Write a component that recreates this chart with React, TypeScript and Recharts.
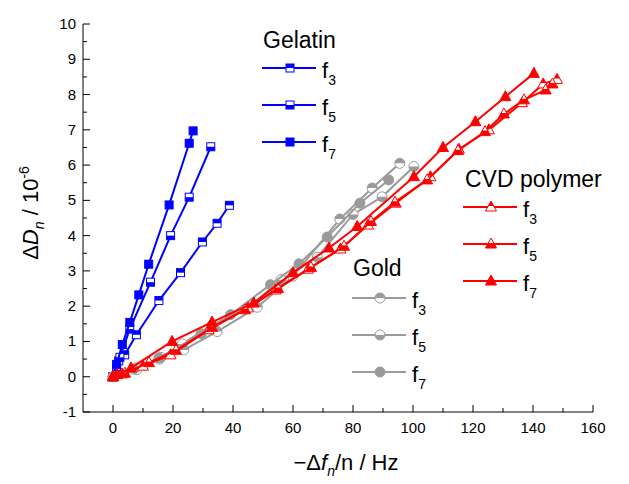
import React from "react";
import { ScatterChart, Scatter, XAxis, YAxis } from "recharts";

const BLUE = "#0000ff";
const GRAY = "#9a9a9a";
const RED = "#ff0000";
const FONT = "'Liberation Sans', Arial, sans-serif";

const xTicks = [0, 10, 20, 30, 40, 50, 60, 70, 80, 90, 100, 110, 120, 130, 140, 150, 160];
const yTicks = [-1, -0.5, 0, 0.5, 1, 1.5, 2, 2.5, 3, 3.5, 4, 4.5, 5, 5.5, 6, 6.5, 7, 7.5, 8, 8.5, 9, 9.5, 10];

// gelatin
const gelatinF3 = [
  { x: 0, y: 0 }, { x: 1.9, y: 0.45 }, { x: 3.9, y: 0.62 }, { x: 7.8, y: 1.19 }, { x: 15.3, y: 2.16 },
  { x: 22.5, y: 2.95 }, { x: 29.8, y: 3.82 }, { x: 34.7, y: 4.35 }, { x: 38.8, y: 4.86 },
];
const gelatinF5 = [
  { x: 0, y: 0 }, { x: 1.2, y: 0.2 }, { x: 2.3, y: 0.55 }, { x: 5.6, y: 1.35 }, { x: 12.5, y: 2.68 },
  { x: 19.2, y: 4.0 }, { x: 25.4, y: 5.09 }, { x: 32.6, y: 6.52 },
];
const gelatinF7 = [
  { x: 0, y: 0 }, { x: 1.2, y: 0.35 }, { x: 3.1, y: 0.91 }, { x: 5.6, y: 1.54 }, { x: 8.6, y: 2.32 },
  { x: 11.9, y: 3.19 }, { x: 18.7, y: 4.87 }, { x: 25.4, y: 6.62 }, { x: 26.7, y: 6.97 },
];

// gold
const goldF3 = [
  { x: 0, y: 0 }, { x: 8, y: 0.2 }, { x: 15.5, y: 0.5 }, { x: 23.6, y: 0.76 }, { x: 34.7, y: 1.28 },
  { x: 48.1, y: 1.97 }, { x: 60, y: 2.85 }, { x: 75.6, y: 4.47 }, { x: 86.4, y: 5.35 }, { x: 95.6, y: 6.05 },
];
const goldF5 = [
  { x: 0, y: 0 }, { x: 7.5, y: 0.25 }, { x: 16, y: 0.55 }, { x: 23.1, y: 0.93 }, { x: 33.1, y: 1.47 },
  { x: 45, y: 1.95 }, { x: 56, y: 2.75 }, { x: 68.1, y: 3.39 }, { x: 80, y: 4.6 }, { x: 89.7, y: 5.1 },
  { x: 100.3, y: 5.96 },
];
const goldF7 = [
  { x: 0, y: 0 }, { x: 7, y: 0.22 }, { x: 15.3, y: 0.53 }, { x: 29.4, y: 1.22 }, { x: 39.2, y: 1.76 },
  { x: 52.5, y: 2.61 }, { x: 62, y: 3.2 }, { x: 71.4, y: 3.96 }, { x: 82.3, y: 4.92 }, { x: 91.9, y: 5.58 },
];

// CVD polymer
const cvdF3 = [
  { x: 0, y: 0 }, { x: 3, y: 0.08 }, { x: 10, y: 0.3 }, { x: 19.2, y: 0.62 }, { x: 31.9, y: 1.33 },
  { x: 45, y: 1.95 }, { x: 54.2, y: 2.46 }, { x: 65, y: 3.05 }, { x: 75.8, y: 3.62 }, { x: 85, y: 4.3 },
  { x: 94.2, y: 4.92 }, { x: 105.8, y: 5.67 }, { x: 115.3, y: 6.45 }, { x: 125.3, y: 7.0 },
  { x: 136.4, y: 7.77 }, { x: 143.4, y: 8.3 }, { x: 148, y: 8.43 },
];
const cvdF5 = [
  { x: 0, y: 0 }, { x: 4, y: 0.1 }, { x: 12, y: 0.4 }, { x: 21, y: 0.75 }, { x: 33, y: 1.4 },
  { x: 44, y: 1.9 }, { x: 55, y: 2.5 }, { x: 66, y: 3.1 }, { x: 77, y: 3.7 }, { x: 86, y: 4.4 },
  { x: 94, y: 4.95 }, { x: 104.7, y: 5.58 }, { x: 115, y: 6.41 }, { x: 124, y: 6.95 },
  { x: 130.3, y: 7.45 }, { x: 137, y: 7.85 }, { x: 144.2, y: 8.13 }, { x: 146.5, y: 8.3 },
];
const cvdF7 = [
  { x: 0, y: 0 }, { x: 1.4, y: 0.06 }, { x: 6, y: 0.25 }, { x: 19.7, y: 1.0 }, { x: 33, y: 1.55 },
  { x: 46.9, y: 2.09 }, { x: 60, y: 2.95 }, { x: 72, y: 3.65 }, { x: 81.4, y: 4.26 }, { x: 100.3, y: 5.67 },
  { x: 110, y: 6.5 }, { x: 120.8, y: 7.23 }, { x: 130.8, y: 7.94 }, { x: 140.3, y: 8.6 },
];

type Kind = "square" | "circle" | "triangle";
type Fill = "full" | "top" | "bottom";

function Marker({ kind, fill, color, cx, cy }: { kind: Kind; fill: Fill; color: string; cx: number; cy: number }) {
  if (cx == null || cy == null) return null;
  if (kind === "square") {
    const s = 4;
    return (
      <g>
        <rect x={cx - s} y={cy - s} width={2 * s} height={2 * s} fill={fill === "full" ? color : "#fff"} stroke={color} strokeWidth={1} />
        {fill === "top" && <rect x={cx - s} y={cy - s} width={2 * s} height={s} fill={color} />}
        {fill === "bottom" && <rect x={cx - s} y={cy} width={2 * s} height={s} fill={color} />}
      </g>
    );
  }
  if (kind === "circle") {
    const r = 5;
    return (
      <g>
        <circle cx={cx} cy={cy} r={r} fill={fill === "full" ? color : "#fff"} stroke={color} strokeWidth={1} />
        {fill === "top" && <path d={`M${cx - r},${cy} A${r},${r} 0 0 1 ${cx + r},${cy} Z`} fill={color} />}
        {fill === "bottom" && <path d={`M${cx - r},${cy} A${r},${r} 0 0 0 ${cx + r},${cy} Z`} fill={color} />}
      </g>
    );
  }
  const h = 10;
  const w = 11;
  const top = cy - 6;
  const base = top + h;
  const mid = top + h / 2;
  return (
    <g>
      <polygon
        points={`${cx},${top} ${cx + w / 2},${base} ${cx - w / 2},${base}`}
        fill={fill === "full" ? color : "#fff"}
        stroke={color}
        strokeWidth={1}
      />
      {fill === "top" && <polygon points={`${cx},${top} ${cx + w / 4},${mid} ${cx - w / 4},${mid}`} fill={color} />}
      {fill === "bottom" && (
        <polygon points={`${cx - w / 4},${mid} ${cx + w / 4},${mid} ${cx + w / 2},${base} ${cx - w / 2},${base}`} fill={color} />
      )}
    </g>
  );
}

function XTick(props: any) {
  const { x, y, payload } = props;
  const v = payload.value;
  const major = v % 20 === 0;
  return (
    <g>
      <line x1={x} x2={x} y1={y} y2={y - (major ? 7 : 4)} stroke="#000" strokeWidth={1} />
      {major && (
        <text x={x} y={y + 21} textAnchor="middle" fontSize={15} fontFamily={FONT} fill="#000">
          {v}
        </text>
      )}
    </g>
  );
}

function YTick(props: any) {
  const { x, y, payload } = props;
  const v = payload.value;
  const major = Number.isInteger(v);
  return (
    <g>
      <line x1={x} x2={x + (major ? 7 : 4)} y1={y} y2={y} stroke="#000" strokeWidth={1} />
      {major && (
        <text x={x - 7} y={y + 5} textAnchor="end" fontSize={15} fontFamily={FONT} fill="#000">
          {v}
        </text>
      )}
    </g>
  );
}

const series = [
  { name: "gelatinF3", data: gelatinF3, color: BLUE, kind: "square" as Kind, fill: "top" as Fill },
  { name: "gelatinF5", data: gelatinF5, color: BLUE, kind: "square" as Kind, fill: "bottom" as Fill },
  { name: "gelatinF7", data: gelatinF7, color: BLUE, kind: "square" as Kind, fill: "full" as Fill },
  { name: "goldF3", data: goldF3, color: GRAY, kind: "circle" as Kind, fill: "top" as Fill },
  { name: "goldF5", data: goldF5, color: GRAY, kind: "circle" as Kind, fill: "bottom" as Fill },
  { name: "goldF7", data: goldF7, color: GRAY, kind: "circle" as Kind, fill: "full" as Fill },
  { name: "cvdF3", data: cvdF3, color: RED, kind: "triangle" as Kind, fill: "top" as Fill },
  { name: "cvdF5", data: cvdF5, color: RED, kind: "triangle" as Kind, fill: "bottom" as Fill },
  { name: "cvdF7", data: cvdF7, color: RED, kind: "triangle" as Kind, fill: "full" as Fill },
];

function LegendBlock({ title, tx, ty, lx, ly, color, kind }: { title: string; tx: number; ty: number; lx: number; ly: number; color: string; kind: Kind }) {
  const fills: Fill[] = ["top", "bottom", "full"];
  const labels = ["3", "5", "7"];
  return (
    <g>
      <text x={tx} y={ty} fontSize={23} fontFamily={FONT} fill="#000">{title}</text>
      {fills.map((f, i) => {
        const y = ly + i * 37;
        return (
          <g key={i}>
            <line x1={lx} x2={lx + 54} y1={y} y2={y} stroke={color} strokeWidth={2} />
            <Marker kind={kind} fill={f} color={color} cx={lx + 28} cy={y} />
            <text x={lx + 60} y={y + 10} fontSize={22} fontFamily={FONT} fill="#000">
              f<tspan fontSize={14} dy={7}>{labels[i]}</tspan>
            </text>
          </g>
        );
      })}
    </g>
  );
}

export default function App() {
  return (
    <div style={{ position: "absolute", left: 0, top: 0, width: 629, height: 484, background: "#fff" }}>
      <ScatterChart width={629} height={484} margin={{ top: 24, right: 36, bottom: 0, left: 0 }}>
        <XAxis
          type="number"
          dataKey="x"
          domain={[-10, 160]}
          ticks={xTicks}
          interval={0}
          tickSize={0}
          tickMargin={0}
          tickLine={false}
          tick={<XTick />}
          height={72}
          axisLine={{ stroke: "#000", strokeWidth: 1 }}
          allowDataOverflow
        />
        <YAxis
          type="number"
          dataKey="y"
          domain={[-1, 10]}
          ticks={yTicks}
          interval={0}
          tickSize={0}
          tickMargin={0}
          tickLine={false}
          tick={<YTick />}
          width={83}
          axisLine={{ stroke: "#000", strokeWidth: 1 }}
          allowDataOverflow
        />
        {series.map((s) => (
          <Scatter
            key={s.name}
            name={s.name}
            data={s.data}
            line={{ stroke: s.color, strokeWidth: 2 }}
            lineJointType="linear"
            isAnimationActive={false}
            shape={(p: any) => <Marker kind={s.kind} fill={s.fill} color={s.color} cx={p.cx} cy={p.cy} />}
          />
        ))}
      </ScatterChart>
      <svg width={629} height={484} style={{ position: "absolute", left: 0, top: 0, pointerEvents: "none" }}>
        <LegendBlock title="Gelatin" tx={263} ty={48} lx={262} ly={68} color={BLUE} kind="square" />
        <LegendBlock title="Gold" tx={353} ty={276} lx={352} ly={298} color={GRAY} kind="circle" />
        <LegendBlock title="CVD polymer" tx={465} ty={187} lx={463} ly={207} color={RED} kind="triangle" />
        <text x={38} y={213} transform="rotate(-90 38 213)" textAnchor="middle" fontSize={22} fontFamily={FONT} fill="#000">
          Δ<tspan fontStyle="italic">D</tspan>
          <tspan fontStyle="italic" fontSize={14} dy={6}>n</tspan>
          <tspan dy={-6}> / 10</tspan>
          <tspan fontSize={14} dy={-9}>-6</tspan>
        </text>
        <text x={346} y={470} textAnchor="middle" fontSize={22} fontFamily={FONT} fill="#000">
          −Δ<tspan fontStyle="italic">f</tspan>
          <tspan fontStyle="italic" fontSize={14} dy={6}>n</tspan>
          <tspan dy={-6}>/n / Hz</tspan>
        </text>
      </svg>
    </div>
  );
}
